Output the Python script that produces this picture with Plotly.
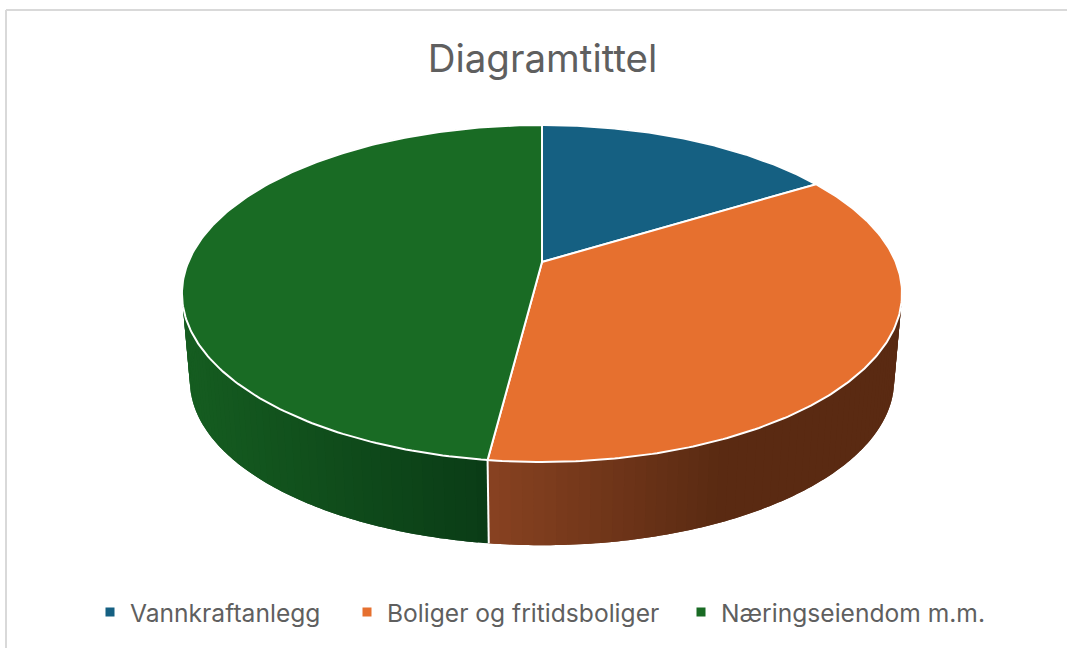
import numpy as np
import plotly.graph_objects as go

categories = ["Vannkraftanlegg", "Boliger og fritidsboliger", "Næringseiendom m.m."]
values = [16.2, 35.8, 48]
colors = ["#156082", "#E6702F", "#196B24"]
title_text = "Diagramtittel"

W, H = 1067, 648
CX = 542.0
TOP_Y, BOT_Y = 262.0, 349.6
A, B, K = 353.7, 162.6, 0.187
BOT_SCALE = 0.978
FONT = "Inter"
TEXT = "#5F5F5F"


def project(theta, y0, s=1.0):
    u, v = np.sin(theta), np.cos(theta)
    w = 1 + K * v
    return CX + s * A * u / w, y0 - s * B * v / w


def wall_color(i, x):
    ramps = {
        0: ((10, 62, 85), (10, 62, 85), 0, 1000),
        1: ((136, 66, 33), (90, 42, 18), 488, 720),
        2: ((21, 92, 32), (10, 60, 22), 190, 486),
    }
    c0, c1, x0, x1 = ramps[i]
    f = min(max((x - x0) / (x1 - x0), 0), 1)
    return "rgb(%d,%d,%d)" % tuple(round(a + (b - a) * f) for a, b in zip(c0, c1))


fractions = np.cumsum([0] + values) / sum(values)
angles = 2 * np.pi * fractions

fig = go.Figure()

# side wall, shaded in overlapping strips so no seams show
for i in range(len(values)):
    start, end = angles[i], angles[i + 1]
    n = max(int((end - start) / np.radians(1.5)), 1)
    edges = np.linspace(start, end, n + 1)
    for j in range(n):
        t0, t1 = edges[j], edges[min(j + 2, n)]
        ts = np.linspace(t0, t1, 5)
        xt, yt = project(ts, TOP_Y)
        xb, yb = project(ts[::-1], BOT_Y, BOT_SCALE)
        x_mid = float(project(0.5 * (edges[j] + edges[j + 1]), TOP_Y)[0])
        c = wall_color(i, x_mid)
        fig.add_trace(go.Scatter(
            x=np.r_[xt, xb, xt[0]], y=np.r_[yt, yb, yt[0]],
            mode="none", fill="toself", fillcolor=c,
            hoverinfo="skip", showlegend=False))

# white seams on the visible wall
for a in angles[1:-1]:
    if np.cos(a) < 0:
        xs0, ys0 = project(a, TOP_Y)
        xs1, ys1 = project(a, BOT_Y, BOT_SCALE)
        fig.add_trace(go.Scatter(
            x=[xs0, xs1], y=[ys0, ys1], mode="lines",
            line=dict(color="white", width=2),
            hoverinfo="skip", showlegend=False))

# top face
for i, (cat, val) in enumerate(zip(categories, values)):
    ts = np.linspace(angles[i], angles[i + 1], 200)
    xa, ya = project(ts, TOP_Y)
    fig.add_trace(go.Scatter(
        x=np.r_[CX, xa, CX], y=np.r_[TOP_Y, ya, TOP_Y],
        mode="lines", fill="toself", fillcolor=colors[i],
        line=dict(color="white", width=2),
        name=cat, text=f"{cat}: {val}", hoverinfo="text", showlegend=False))

# legend entries, each in its own legend so the spacing can follow the reference
legend_names = ["legend", "legend2", "legend3"]
legend_x = [90, 347, 681]
for i, cat in enumerate(categories):
    fig.add_trace(go.Scatter(
        x=[None], y=[None], mode="markers", name=cat,
        marker=dict(symbol="square", size=9, color=colors[i]),
        legend=legend_names[i], showlegend=True))

legend_style = dict(
    orientation="h", yanchor="middle", y=1 - 612 / H, xanchor="left",
    bgcolor="rgba(0,0,0,0)", font=dict(family=FONT, size=24.6, color=TEXT),
    itemwidth=30, traceorder="normal")

fig.update_layout(
    width=W, height=H, margin=dict(l=0, r=0, t=0, b=0),
    paper_bgcolor="white", plot_bgcolor="white",
    xaxis=dict(range=[0, W], visible=False, fixedrange=True),
    yaxis=dict(range=[H, 0], visible=False, fixedrange=True),
    title=dict(text=title_text, x=542.5 / W, xanchor="center", y=1 - 59 / H,
               yanchor="middle", font=dict(family=FONT, size=38.5, color=TEXT)),
    legend=dict(x=legend_x[0] / W, **legend_style),
    legend2=dict(x=legend_x[1] / W, **legend_style),
    legend3=dict(x=legend_x[2] / W, **legend_style),
    shapes=[
        dict(type="line", xref="x", yref="y", x0=6, x1=6, y0=10, y1=H,
             line=dict(color="#D9D9D9", width=2)),
        dict(type="line", xref="x", yref="y", x0=6, x1=W, y0=10, y1=10,
             line=dict(color="#D9D9D9", width=2)),
    ],
)

fig.write_html("out.html", config=dict(displayModeBar=False),
               post_script="document.body.style.margin='0';document.body.style.overflow='hidden';")
